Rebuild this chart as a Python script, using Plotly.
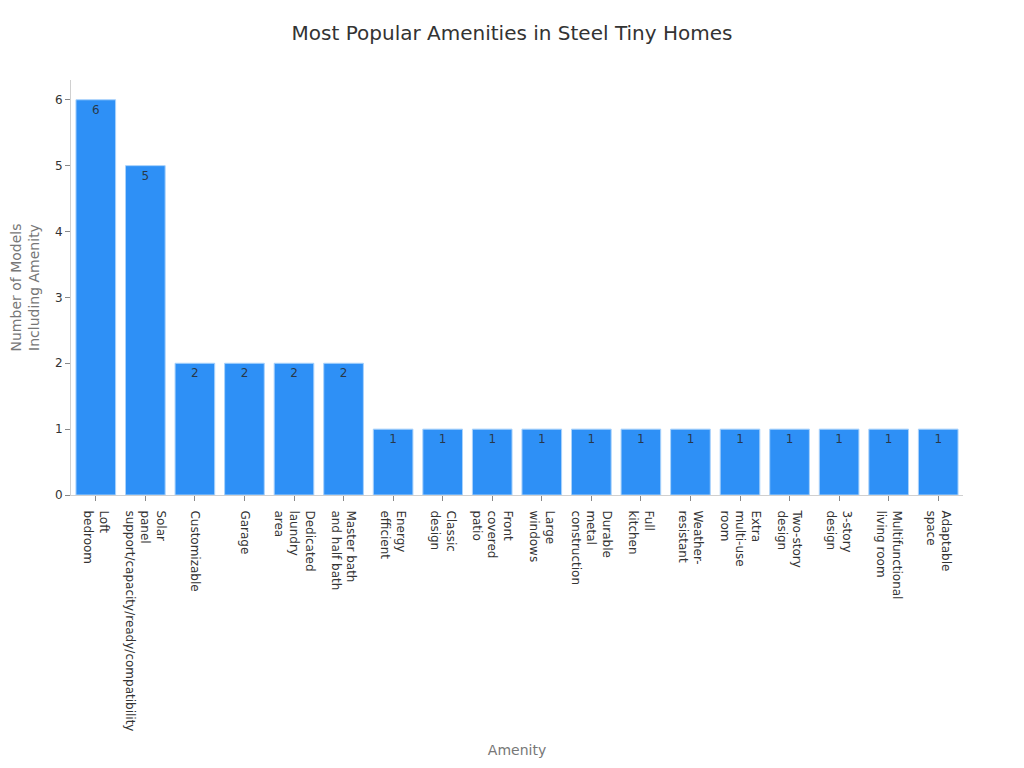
import plotly.graph_objects as go

categories = [
    "Loft<br>bedroom",
    "Solar<br>panel<br>support/capacity/ready/compatibility",
    "Customizable",
    "Garage",
    "Dedicated<br>laundry<br>area",
    "Master bath<br>and half bath",
    "Energy<br>efficient",
    "Classic<br>design",
    "Front<br>covered<br>patio",
    "Large<br>windows",
    "Durable<br>metal<br>construction",
    "Full<br>kitchen",
    "Weather-<br>resistant",
    "Extra<br>multi-use<br>room",
    "Two-story<br>design",
    "3-story<br>design",
    "Multifunctional<br>living room",
    "Adaptable<br>space",
]
counts = [6, 5, 2, 2, 2, 2, 1, 1, 1, 1, 1, 1, 1, 1, 1, 1, 1, 1]
y_ticks = [0, 1, 2, 3, 4, 5, 6]

FONT = "DejaVu Sans"

fig = go.Figure(
    go.Bar(
        x=categories,
        y=counts,
        text=[str(v) for v in counts],
        textposition="inside",
        insidetextanchor="end",
        textangle=0,
        textfont=dict(family=FONT, size=12, color="rgba(40,40,40,0.85)"),
        marker=dict(color="#2E90F6", line=dict(color="#A9D2FB", width=1)),
        hoverinfo="x+y",
    )
)

fig.update_layout(
    width=1024,
    height=768,
    paper_bgcolor="white",
    plot_bgcolor="white",
    font=dict(family=FONT, size=12, color="#333333"),
    title=dict(
        text="Most Popular Amenities in Steel Tiny Homes",
        x=504 / 1024,
        xanchor="center",
        y=1 - 25 / 768,
        yanchor="middle",
        font=dict(family=FONT, size=20, color="#333333"),
    ),
    margin=dict(l=63, r=69, t=72, b=281, autoexpand=False),
    bargap=0.2,
    showlegend=False,
    uniformtext=dict(minsize=8, mode="show"),
)

fig.update_xaxes(
    type="category",
    tickangle=90,
    showline=True,
    linecolor="#d0d0d0",
    linewidth=1,
    ticks="outside",
    ticklen=5,
    tickcolor="#888888",
    ticklabelstandoff=7,
    showgrid=False,
    tickfont=dict(family=FONT, size=12, color="#333333"),
    title=dict(text="Amenity", font=dict(family=FONT, size=14, color="#777777"), standoff=14),
    automargin=False,
)
fig.update_yaxes(
    range=[0, 6.3],
    tickvals=y_ticks,
    showline=True,
    linecolor="#d0d0d0",
    linewidth=1,
    ticks="outside",
    ticklen=5,
    tickcolor="#888888",
    showgrid=False,
    zeroline=False,
    tickfont=dict(family=FONT, size=12, color="#333333"),
    title=dict(
        text="Number of Models<br>Including Amenity",
        font=dict(family=FONT, size=14, color="#777777"),
        standoff=17,
    ),
    automargin=False,
)

fig.write_html("out.html")
